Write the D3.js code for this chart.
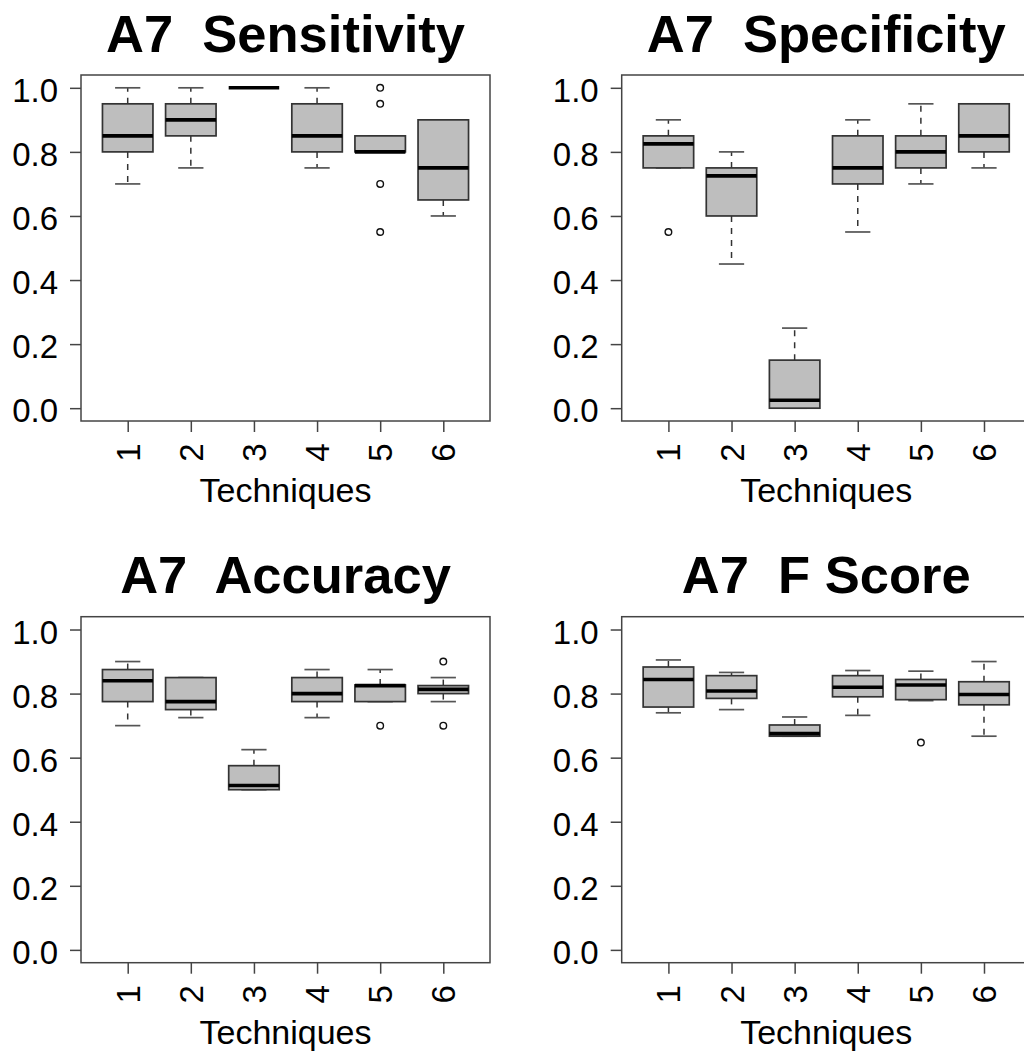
<!DOCTYPE html>
<html>
<head>
<meta charset="utf-8">
<script src="https://cdn.jsdelivr.net/npm/d3@7"></script>
<style>
  body { margin: 0; background: #fff; }
  svg { display: block; font-family: "Liberation Sans", Arial, sans-serif; }
</style>
</head>
<body>
<div id="chart"></div>
<script>
// Techniques on the x axis
const techniques = [1, 2, 3, 4, 5, 6];
const yTicks = [0, 0.2, 0.4, 0.6, 0.8, 1.0];

// Box stats per technique: [lower whisker, q1, median, q3, upper whisker]
const sensitivityStats = [
  [0.70, 0.80, 0.85, 0.95, 1.00],
  [0.75, 0.85, 0.90, 0.95, 1.00],
  [1.00, 1.00, 1.00, 1.00, 1.00],
  [0.75, 0.80, 0.85, 0.95, 1.00],
  [0.80, 0.80, 0.80, 0.85, 0.85],
  [0.60, 0.65, 0.75, 0.90, 0.90]
];
const sensitivityOutliers = [[], [], [], [], [1.00, 0.95, 0.70, 0.55], []];

const specificityStats = [
  [0.75, 0.75, 0.825, 0.85, 0.90],
  [0.45, 0.60, 0.725, 0.75, 0.80],
  [0.00, 0.00, 0.025, 0.15, 0.25],
  [0.55, 0.70, 0.75, 0.85, 0.90],
  [0.70, 0.75, 0.80, 0.85, 0.95],
  [0.75, 0.80, 0.85, 0.95, 0.95]
];
const specificityOutliers = [[0.55], [], [], [], [], []];

const accuracyStats = [
  [0.700, 0.775, 0.840, 0.875, 0.900],
  [0.725, 0.750, 0.775, 0.850, 0.850],
  [0.500, 0.500, 0.513, 0.575, 0.625],
  [0.725, 0.775, 0.800, 0.850, 0.875],
  [0.775, 0.775, 0.825, 0.827, 0.875],
  [0.775, 0.800, 0.813, 0.825, 0.850]
];
const accuracyOutliers = [[], [], [], [], [0.70], [0.90, 0.70]];

const fscoreStats = [
  [0.740, 0.758, 0.844, 0.883, 0.905],
  [0.750, 0.785, 0.808, 0.856, 0.866],
  [0.667, 0.667, 0.675, 0.702, 0.727],
  [0.732, 0.790, 0.820, 0.856, 0.872],
  [0.778, 0.781, 0.827, 0.844, 0.870],
  [0.667, 0.765, 0.797, 0.837, 0.900]
];
const fscoreOutliers = [[], [], [], [], [0.647], []];

const W = 1024, H = 1055;
const plotW = 409, plotH = 346;

const svg = d3.select("#chart").append("svg")
  .attr("width", W)
  .attr("height", H);

drawPanel({ title: "A7  Sensitivity", stats: sensitivityStats, outliers: sensitivityOutliers, left: 81, top: 75 });
drawPanel({ title: "A7  Specificity", stats: specificityStats, outliers: specificityOutliers, left: 621.7, top: 75 });
drawPanel({ title: "A7  Accuracy", stats: accuracyStats, outliers: accuracyOutliers, left: 81, top: 616.7 });
drawPanel({ title: "A7  F Score", stats: fscoreStats, outliers: fscoreOutliers, left: 621.7, top: 616.7 });

function drawPanel({ title, stats, outliers, left, top }) {
  const g = svg.append("g").attr("transform", `translate(${left},${top})`);

  // R style: 4% padding around the ranges
  const x = d3.scaleLinear().domain([0.26, 6.74]).range([0, plotW]);
  const y = d3.scaleLinear().domain([-0.04, 1.04]).range([plotH, 0]);
  const half = x(0.4) - x(0);   // half box width (boxwex 0.8)
  const staple = x(0.2) - x(0);

  const data = techniques.map((t, i) => ({ t, s: stats[i], out: outliers[i] }));

  // title
  g.append("text")
    .attr("x", plotW / 2)
    .attr("y", -23.3)
    .attr("text-anchor", "middle")
    .style("font-size", "52.5px")
    .style("font-weight", "bold")
    .style("white-space", "pre")
    .text(title);

  const boxes = g.selectAll(".bx").data(data).enter().append("g")
    .attr("class", "bx")
    .attr("transform", d => `translate(${x(d.t)},0)`);

  // dashed whiskers
  boxes.append("line")
    .attr("y1", d => y(d.s[3])).attr("y2", d => y(d.s[4]))
    .attr("stroke", "#333").attr("stroke-width", 1.5)
    .attr("stroke-dasharray", "6,6");
  boxes.append("line")
    .attr("y1", d => y(d.s[1])).attr("y2", d => y(d.s[0]))
    .attr("stroke", "#333").attr("stroke-width", 1.5)
    .attr("stroke-dasharray", "6,6");

  // staples
  [0, 4].forEach(k => {
    boxes.append("line")
      .attr("x1", -staple).attr("x2", staple)
      .attr("y1", d => y(d.s[k])).attr("y2", d => y(d.s[k]))
      .attr("stroke", "#555").attr("stroke-width", 1.7);
  });

  // box
  boxes.append("rect")
    .attr("x", -half)
    .attr("width", half * 2)
    .attr("y", d => y(d.s[3]))
    .attr("height", d => y(d.s[1]) - y(d.s[3]))
    .attr("fill", "#bebebe")
    .attr("stroke", "#333")
    .attr("stroke-width", 1.7);

  // median
  boxes.append("line")
    .attr("x1", -half).attr("x2", half)
    .attr("y1", d => y(d.s[2])).attr("y2", d => y(d.s[2]))
    .attr("stroke", "#000").attr("stroke-width", 3.6);

  // outliers
  boxes.selectAll("circle").data(d => d.out).enter().append("circle")
    .attr("cx", 0)
    .attr("cy", v => y(v))
    .attr("r", 3.3)
    .attr("fill", "none")
    .attr("stroke", "#111")
    .attr("stroke-width", 1.4);

  // frame
  g.append("rect")
    .attr("width", plotW).attr("height", plotH)
    .attr("fill", "none")
    .attr("stroke", "#444")
    .attr("stroke-width", 1.5);

  // y axis
  g.append("g")
    .call(d3.axisLeft(y).tickValues(yTicks).tickSize(11).tickPadding(12).tickFormat(d3.format(".1f")))
    .call(a => a.select(".domain").remove())
    .call(a => a.selectAll(".tick line").attr("stroke", "#444").attr("stroke-width", 1.5))
    .call(a => a.selectAll(".tick text")
      .attr("dy", "0.41em")
      .attr("fill", "#000")
      .style("font-size", "33px")
      .style("font-family", "'Liberation Sans', Arial, sans-serif"));

  // x axis, labels perpendicular
  g.append("g")
    .attr("transform", `translate(0,${plotH})`)
    .call(d3.axisBottom(x).tickValues(techniques).tickSize(11).tickFormat(d3.format("d")))
    .call(a => a.select(".domain").remove())
    .call(a => a.selectAll(".tick line").attr("stroke", "#444").attr("stroke-width", 1.5))
    .call(a => a.selectAll(".tick text")
      .attr("transform", "rotate(-90)")
      .attr("x", -22.5)
      .attr("y", 0)
      .attr("dy", "0.35em")
      .attr("text-anchor", "end")
      .attr("fill", "#000")
      .style("font-size", "33px")
      .style("font-family", "'Liberation Sans', Arial, sans-serif"));

  // x axis label
  g.append("text")
    .attr("x", plotW / 2)
    .attr("y", plotH + 81)
    .attr("text-anchor", "middle")
    .style("font-size", "34px")
    .text("Techniques");
}
</script>
</body>
</html>
